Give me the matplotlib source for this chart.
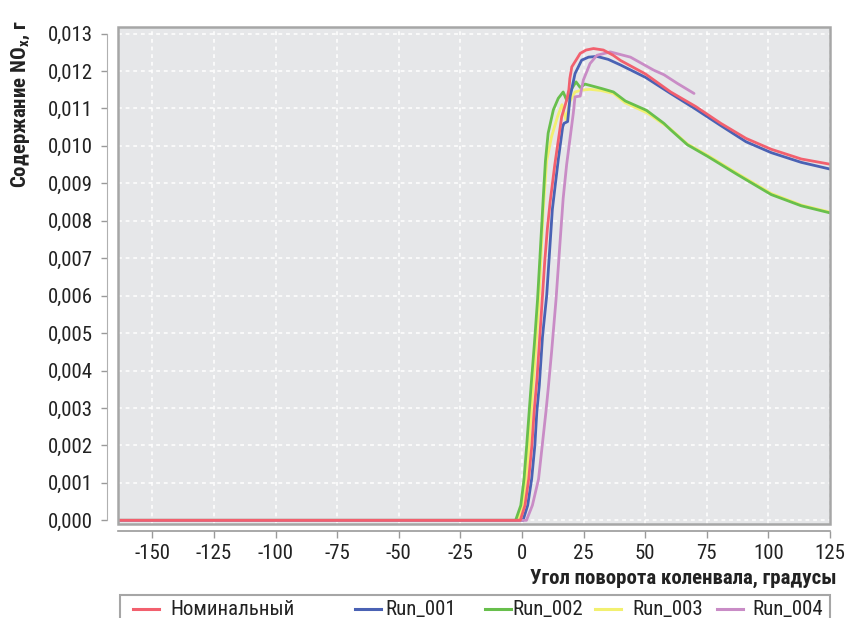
import matplotlib
matplotlib.use("Agg")
import matplotlib.pyplot as plt
from matplotlib.patches import Rectangle
from matplotlib.lines import Line2D

plt.rcParams['font.family'] = ['Roboto Condensed', 'Liberation Sans Narrow', 'DejaVu Sans']

# --- data (crank angle, NOx content) ---
x_nom = [-164, -0.7, 1.2, 2.7, 4.0, 4.9, 6.1, 7.2, 8.3, 9.2, 10.3, 11.4, 13.3, 16.1, 18.1, 19.0,
         19.4, 20.2, 22.2, 23.6, 26.0, 29.0, 33.0, 37.0, 40.0, 50.1, 60.3, 70.5, 80.7, 90.9,
         101.1, 113.3, 125]
y_nom = [0, 0, 0.0004, 0.0011, 0.0020, 0.0029, 0.0038, 0.0049, 0.0060, 0.0069, 0.0078, 0.0085,
         0.0095, 0.01078, 0.01122, 0.01150, 0.01180, 0.01211, 0.01232, 0.01247, 0.01256, 0.01260,
         0.01256, 0.01242, 0.01228, 0.01192, 0.01144, 0.01105, 0.01060, 0.01020, 0.00991,
         0.00965, 0.00951]

x_r1 = [-164, 0.4, 2.3, 3.9, 5.2, 6.0, 7.0, 8.3, 10.0, 11.2, 12.3, 14.7, 16.5, 17.0, 18.5,
        19.5, 21.5, 24.2, 27.0, 30.4, 35.0, 40.0, 50.1, 60.3, 70.5, 80.7, 90.9, 101.1, 113.3, 125]
y_r1 = [0, 0, 0.0004, 0.0011, 0.0020, 0.0029, 0.0036, 0.0049, 0.0060, 0.0072, 0.0083, 0.00963,
        0.01051, 0.01060, 0.01065, 0.01131, 0.01193, 0.01229, 0.01237, 0.01239, 0.01231, 0.01216,
        0.01183, 0.01140, 0.01098, 0.01054, 0.01011, 0.00982, 0.00956, 0.00938]

x_r2 = [-164, -2.6, -0.5, 0.8, 1.9, 2.9, 3.8, 5.0, 6.3, 7.5, 8.6, 9.5, 10.6, 12.7, 14.7, 16.7,
        18.1, 20.2, 21.9, 23.6, 25.6, 32.4, 37.1, 41.9, 50.5, 57.6, 60.3, 67.1, 75.3, 87.5,
        101.1, 113.3, 125]
y_r2 = [0, 0, 0.0004, 0.0011, 0.0020, 0.0029, 0.0037, 0.0047, 0.0059, 0.0073, 0.0086, 0.0096,
        0.01034, 0.01096, 0.01127, 0.01144, 0.01122, 0.01153, 0.01171, 0.01156, 0.01165, 0.01153,
        0.01144, 0.01120, 0.01095, 0.01060, 0.01043, 0.01003, 0.00972, 0.00923, 0.00870,
        0.00840, 0.00821]

x_r3 = [-164, -1.7, 0.2, 1.6, 2.9, 3.7, 4.7, 6.0, 6.9, 7.8, 8.6, 10.0, 12.0, 14.5, 16.2, 17.8,
        19.5, 21.5, 24.2, 27.6, 32.0, 37.1, 41.9, 50.8, 60.3, 67.1, 75.3, 87.5, 101.1, 113.3, 125]
y_r3 = [0, 0, 0.0004, 0.0011, 0.0020, 0.0029, 0.0038, 0.0050, 0.0059, 0.0072, 0.0083, 0.0096,
        0.01025, 0.01080, 0.01110, 0.01070, 0.01120, 0.01144, 0.01149, 0.01151, 0.01148, 0.01140,
        0.01115, 0.01088, 0.01045, 0.01005, 0.00975, 0.00926, 0.00873, 0.00842, 0.00823]

x_r4 = [-164, 1.8, 4.2, 6.7, 8.2, 9.7, 10.6, 12.0, 13.8, 15.5, 16.7, 18.1, 20.8, 21.5, 23.6,
        24.9, 27.6, 30.4, 35.8, 44.0, 53.5, 57.6, 63.0, 69.8]
y_r4 = [0, 0, 0.0004, 0.0011, 0.0020, 0.0029, 0.0035, 0.0045, 0.0059, 0.0075, 0.0086, 0.0095,
        0.01087, 0.01131, 0.01133, 0.01176, 0.01220, 0.01242, 0.01251, 0.01237, 0.01202,
        0.01190, 0.01167, 0.01140]

names = ['Номинальный', 'Run_001', 'Run_002', 'Run_003', 'Run_004']
colors = ['#f2606e', '#4a62b4', '#68bf4c', '#f2f070', '#c98cc6']

xticks = [-150, -125, -100, -75, -50, -25, 0, 25, 50, 75, 100, 125]
yticks = [i * 0.001 for i in range(14)]

fig = plt.figure(figsize=(8.54, 6.18), dpi=100)
ax = fig.add_axes([0.138, 0.152, 0.834, 0.804])
ax.set_facecolor('#e6e7e9')

series = {
    'Номинальный': (x_nom, y_nom),
    'Run_001': (x_r1, y_r1),
    'Run_002': (x_r2, y_r2),
    'Run_003': (x_r3, y_r3),
    'Run_004': (x_r4, y_r4),
}
# drawing order so that red sits on top, green over yellow
for name in ['Run_003', 'Run_002', 'Run_001', 'Run_004', 'Номинальный']:
    xs, ys = series[name]
    ax.plot(xs, ys, color=colors[names.index(name)], lw=2.0, solid_capstyle='round', zorder=3)

ax.set_xlim(-164, 125)
ax.set_ylim(-0.0001, 0.01317)
ax.set_xticks(xticks)
ax.set_yticks(yticks)
ax.set_xticklabels([str(t) for t in xticks])
ax.set_yticklabels([('%.3f' % t).replace('.', ',') for t in yticks])
ax.tick_params(axis='both', labelsize=15, colors='#222222', length=5, width=1)
ax.tick_params(axis='x', color='#9a9a9a', pad=4)
ax.tick_params(axis='y', color='#9a9a9a', pad=6, length=4)

ax.grid(True, color='white', ls=(0, (2.5, 2.5)), lw=1.1)
ax.set_axisbelow(True)

for s in ['top', 'right']:
    ax.spines[s].set_visible(False)
ax.spines['left'].set_position(('outward', 8))
ax.spines['left'].set_bounds(0, 0.013)
ax.spines['left'].set_color('#b0b0b0')
ax.spines['bottom'].set_position(('outward', 5))
ax.spines['bottom'].set_color('#9a9a9a')
ax.spines['bottom'].set_linewidth(1.2)

# plot frame
ax.add_patch(Rectangle((0, 0), 1, 1, transform=ax.transAxes, fill=False,
                       ec='#a6a6a6', lw=1.8, zorder=4, clip_on=False))

fig.text(0.979, 0.064, 'Угол поворота коленвала, градусы', ha='right', va='center',
         fontsize=15, fontweight='bold', color='#222222')
fig.text(0.024, 0.968, 'Содержание NO$_\\mathregular{x}$, г', ha='center', va='top',
         rotation=90, fontsize=15, fontweight='bold', color='#222222')

# legend box along the bottom
fig.patches.append(Rectangle((0.141, -0.02), 0.831, 0.057, transform=fig.transFigure,
                             fill=False, ec='#a6a6a6', lw=1.5))
leg_line_x = [0.156, 0.416, 0.568, 0.697, 0.840]
leg_text_x = [0.199, 0.451, 0.600, 0.740, 0.881]
for i, name in enumerate(names):
    fig.lines.append(Line2D([leg_line_x[i], leg_line_x[i] + 0.030], [0.0145, 0.0145],
                            transform=fig.transFigure, color=colors[i], lw=2.2))
    fig.text(leg_text_x[i], 0.0145, name, ha='left', va='center', fontsize=15,
             color='#222222')

fig.savefig('out.png', dpi=100)
